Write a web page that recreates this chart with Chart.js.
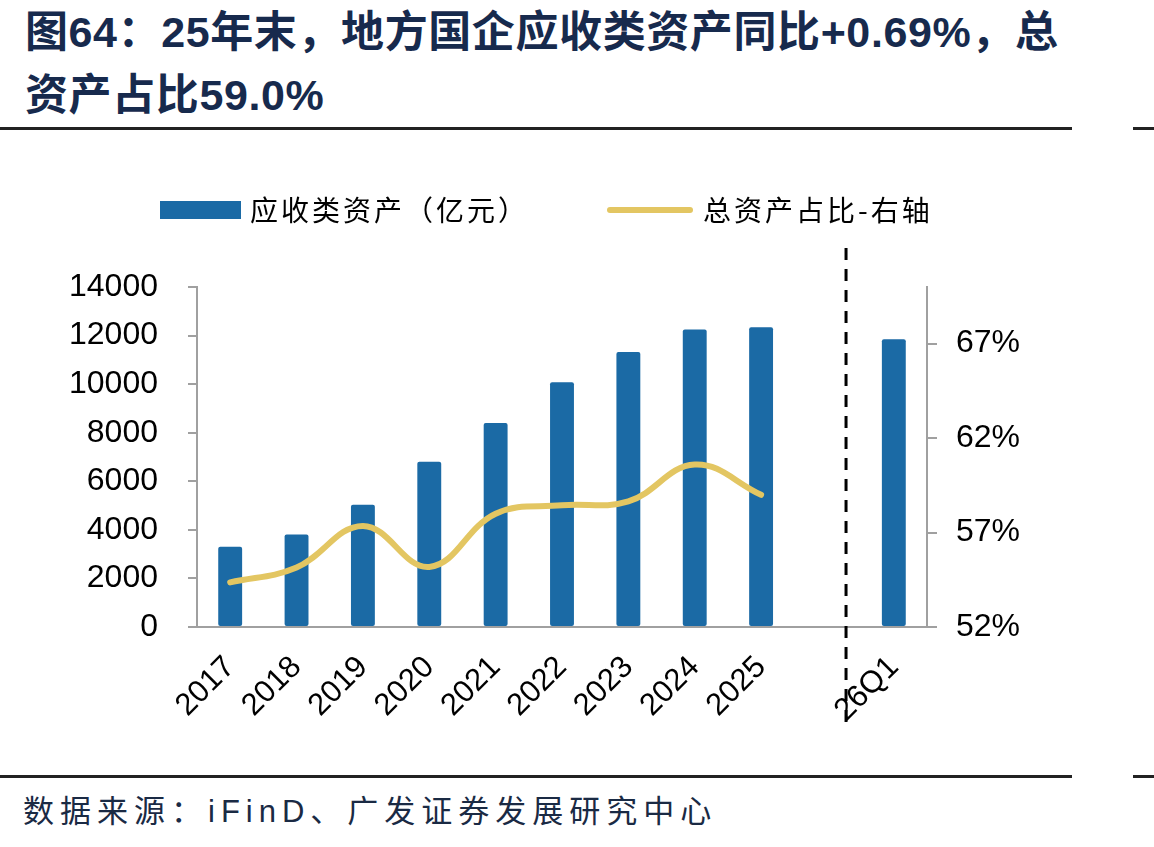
<!DOCTYPE html>
<html>
<head>
<meta charset="utf-8">
<script src="https://cdn.jsdelivr.net/npm/chart.js@4.4.1/dist/chart.umd.min.js"></script>
<style>
  html, body { margin: 0; padding: 0; background: #fff; }
  body { width: 1154px; height: 847px; position: relative; overflow: hidden;
         font-family: "Liberation Sans", "Noto Sans CJK SC", sans-serif; }
  #title { position: absolute; left: 25px; top: 1px; font-size: 43px; font-weight: bold; letter-spacing: 0.6px;
           color: #172a4d; line-height: 63px; white-space: nowrap; }
  .rule { position: absolute; height: 3px; background: #222; }
  #source { position: absolute; left: 23px; top: 786px; font-size: 31px; letter-spacing: 6px;
            color: #1a2a44; white-space: nowrap; }
  #chartBox { position: absolute; left: 0; top: 140px; width: 1154px; height: 620px; }
</style>
</head>
<body>
<div id="title">图64：25年末，地方国企应收类资产同比+0.69%，总<br>资产占比59.0%</div>
<div class="rule" style="left:0;width:1072px;top:127px"></div>
<div class="rule" style="left:1133px;width:21px;top:127px"></div>
<div id="chartBox"><canvas id="chart" width="1154" height="620"></canvas></div>
<div class="rule" style="left:0;width:1072px;top:775px"></div>
<div class="rule" style="left:1133px;width:21px;top:775px"></div>
<div id="source">数据来源：iFinD、广发证券发展研究中心</div>

<script>
// data
const categories = ['2017', '2018', '2019', '2020', '2021', '2022', '2023', '2024', '2025', '', '26Q1'];
const receivables = [3300, 3810, 5030, 6800, 8400, 10080, 11320, 12250, 12340, null, 11850];
const assetShare = [54.36, 55.15, 57.35, 55.18, 58.0, 58.44, 58.65, 60.6, 59.0, null, null];
const leftTicks = [0, 2000, 4000, 6000, 8000, 10000, 12000, 14000];
const rightTicks = [52, 57, 62, 67];
const seriesNames = ['应收类资产（亿元）', '总资产占比-右轴'];
const dividerAt = 9.28; // dashed separator, in category units

const barColor = '#1b6aa5';
const lineColor = '#e3c662';
const axisColor = '#a0a0a0';

Chart.defaults.font.family = '"Liberation Sans", Arial, sans-serif';
Chart.defaults.color = '#000';

// legend drawn at the top-left like the original
const topLegend = {
    id: 'topLegend',
    afterDraw(chart) {
        const ctx = chart.ctx;
        ctx.save();
        ctx.font = '28px "Noto Sans CJK SC"';
        ctx.letterSpacing = '3px';
        ctx.textBaseline = 'middle';
        ctx.fillStyle = barColor;
        ctx.fillRect(160, 61, 81, 18);
        ctx.fillStyle = '#000';
        ctx.fillText(seriesNames[0], 250, 70);

        ctx.strokeStyle = lineColor;
        ctx.lineWidth = 6;
        ctx.lineCap = 'round';
        ctx.beginPath();
        ctx.moveTo(610, 70);
        ctx.lineTo(690, 70);
        ctx.stroke();
        ctx.fillText(seriesNames[1], 703, 70);
        ctx.restore();
    }
};

const divider = {
    id: 'divider',
    afterDatasetsDraw(chart) {
        const x = chart.scales.x;
        const step = x.getPixelForValue(1) - x.getPixelForValue(0);
        const px = x.getPixelForValue(0) + dividerAt * step;
        const ctx = chart.ctx;
        ctx.save();
        ctx.strokeStyle = '#000';
        ctx.lineWidth = 3;
        ctx.setLineDash([12, 9]);
        ctx.beginPath();
        ctx.moveTo(px, 108);
        ctx.lineTo(px, 583);
        ctx.stroke();
        ctx.restore();
    }
};

new Chart(document.getElementById('chart'), {
    type: 'bar',
    data: {
        labels: categories,
        datasets: [
            {
                type: 'line',
                label: seriesNames[1],
                data: assetShare,
                yAxisID: 'yR',
                borderColor: lineColor,
                borderWidth: 6,
                borderCapStyle: 'round',
                borderJoinStyle: 'round',
                tension: 0.4,
                pointRadius: 0,
                spanGaps: false,
                order: 0
            },
            {
                label: seriesNames[0],
                data: receivables,
                yAxisID: 'yL',
                backgroundColor: barColor,
                borderRadius: 2,
                borderSkipped: false,
                categoryPercentage: 1,
                barPercentage: 0.36,
                order: 1
            }
        ]
    },
    options: {
        responsive: false,
        animation: false,
        layout: { padding: { top: 147, left: 0, right: 0, bottom: 0 } },
        plugins: { legend: { display: false }, tooltip: { enabled: false } },
        scales: {
            x: {
                offset: true,
                grid: { drawOnChartArea: false, drawTicks: false },
                border: { color: axisColor, width: 2 },
                ticks: { font: { size: 31 }, color: '#000', maxRotation: 45, minRotation: 45, padding: 22, autoSkip: false },
                afterFit(s) { s.height = 133; }
            },
            yL: {
                position: 'left',
                min: 0,
                max: 14000,
                afterBuildTicks(s) { s.ticks = leftTicks.map(v => ({ value: v })); },
                grid: { drawOnChartArea: false, tickLength: 9, color: axisColor, lineWidth: 2 },
                border: { color: axisColor, width: 2 },
                ticks: { font: { size: 32 }, color: '#000', padding: 30, callback: v => String(v) },
                afterFit(s) { s.width = 197; }
            },
            yR: {
                position: 'right',
                min: 52,
                max: 70,
                afterBuildTicks(s) { s.ticks = rightTicks.map(v => ({ value: v })); },
                grid: { drawOnChartArea: false, tickLength: 10, color: axisColor, lineWidth: 2 },
                border: { color: axisColor, width: 2 },
                ticks: { font: { size: 32 }, color: '#000', padding: 19, callback: v => v + '%' },
                afterFit(s) { s.width = 227; }
            }
        }
    },
    plugins: [topLegend, divider]
});
</script>
</body>
</html>
